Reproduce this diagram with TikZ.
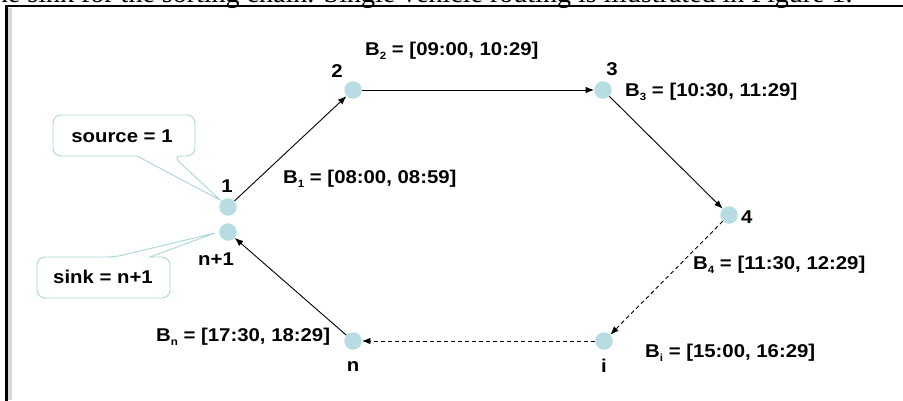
\documentclass[tikz,border=0pt]{standalone}
\usepackage{fontspec}
\setmainfont{Liberation Serif}
\newfontfamily\labfont[FakeStretch=1.1]{Liberation Sans}
\usetikzlibrary{arrows.meta}

\definecolor{dotfill}{RGB}{183,221,226}
\definecolor{noteline}{RGB}{168,214,219}
\definecolor{framegray}{RGB}{216,216,216}

% small lowered index for the time-window labels
\newcommand\sbs[1]{\raisebox{-4pt}{\fontsize{10.5}{10.5}\selectfont #1}}

\tikzset{
  dot/.style={circle, fill=dotfill, minimum size=17.5pt, inner sep=0pt},
  lab/.style={font=\labfont\bfseries\fontsize{18.5}{20}\selectfont, inner sep=0pt},
  edge/.style={draw=black, line width=0.9pt, -{Latex[length=8.5pt,width=6.5pt]}},
  dashedge/.style={edge, dash pattern=on 4pt off 3pt},
  note/.style={draw=noteline, line width=0.9pt, fill=white},
}

\begin{document}
\begin{tikzpicture}[x=1pt, y=-1pt]
\useasboundingbox (0,0) rectangle (903,400);

\begin{scope}
\clip (0,0) rectangle (903,400);
% running text of the page above the figure frame
\node[anchor=base west, inner sep=0pt, font=\fontsize{28}{30}\selectfont] (topline)
  at (-14,2) {the sink for the sorting chain. Single vehicle routing is illustrated in Figure 1.};
% figure frame
\fill[framegray] (8,8) rectangle (11.5,400);
\draw[line width=2.3pt] (6.5,401) -- (6.5,6.2) -- (904,6.2);
\end{scope}

% customers of the route
\node[dot] (v1)  at (228,207) {};
\node[dot] (vn1) at (228,232) {};
\node[dot] (v2)  at (353,90)  {};
\node[dot] (v3)  at (603,90)  {};
\node[dot] (v4)  at (729,215) {};
\node[dot] (vi)  at (604,341) {};
\node[dot] (vn)  at (353,341) {};

% node numbers
\node[lab, anchor=base] (l1)  at (227,192) {1};
\node[lab, anchor=base] (ln1) at (216,265) {n+1};
\node[lab, anchor=base] (l2)  at (337,77)  {2};
\node[lab, anchor=base] (l3)  at (612,75)  {3};
\node[lab, anchor=base west] (l4) at (741,223) {4};
\node[lab, anchor=base] (li)  at (604,372) {i};
\node[lab, anchor=base] (ln)  at (353,371) {n};

% time windows
\node[lab, anchor=base west] (b1) at (283,183) {B\sbs{1} = [08:00, 08:59]};
\node[lab, anchor=base west] (b2) at (365,55)  {B\sbs{2} = [09:00, 10:29]};
\node[lab, anchor=base west] (b3) at (625,96)  {B\sbs{3} = [10:30, 11:29]};
\node[lab, anchor=base west] (b4) at (693,269) {B\sbs{4} = [11:30, 12:29]};
\node[lab, anchor=base west] (bi) at (645,357) {B\sbs{i} = [15:00, 16:29]};
\node[lab, anchor=base west] (bn) at (156,341) {B\sbs{n} = [17:30, 18:29]};

% route
\draw[edge] (v1) -- (v2);
\draw[edge] (v2) -- (v3);
\draw[edge] (v3) -- (v4);
\draw[dashedge] (v4) -- (vi);
\draw[dashedge] (vi) -- (vn);
\draw[edge] (vn) -- (vn1);

% callouts for source and sink
\coordinate (srctip)  at (220,200);
\coordinate (sinktip) at (215,233);
\draw[note] [rounded corners=8pt] (137,156) -- (53,156) -- (53,115) -- (195,115)
  -- (195,156) -- (173,156) [sharp corners] -- (srctip) -- cycle;
\draw[note] [rounded corners=8pt] (150,257) -- (170,257) -- (170,298) -- (37,298)
  -- (37,257) -- (115,257) [sharp corners] -- (sinktip) -- cycle;
\node[lab, anchor=base] (srcnote)  at (122,142) {source = 1};
\node[lab, anchor=base] (sinknote) at (103,283) {sink = n+1};
\end{tikzpicture}
\end{document}
